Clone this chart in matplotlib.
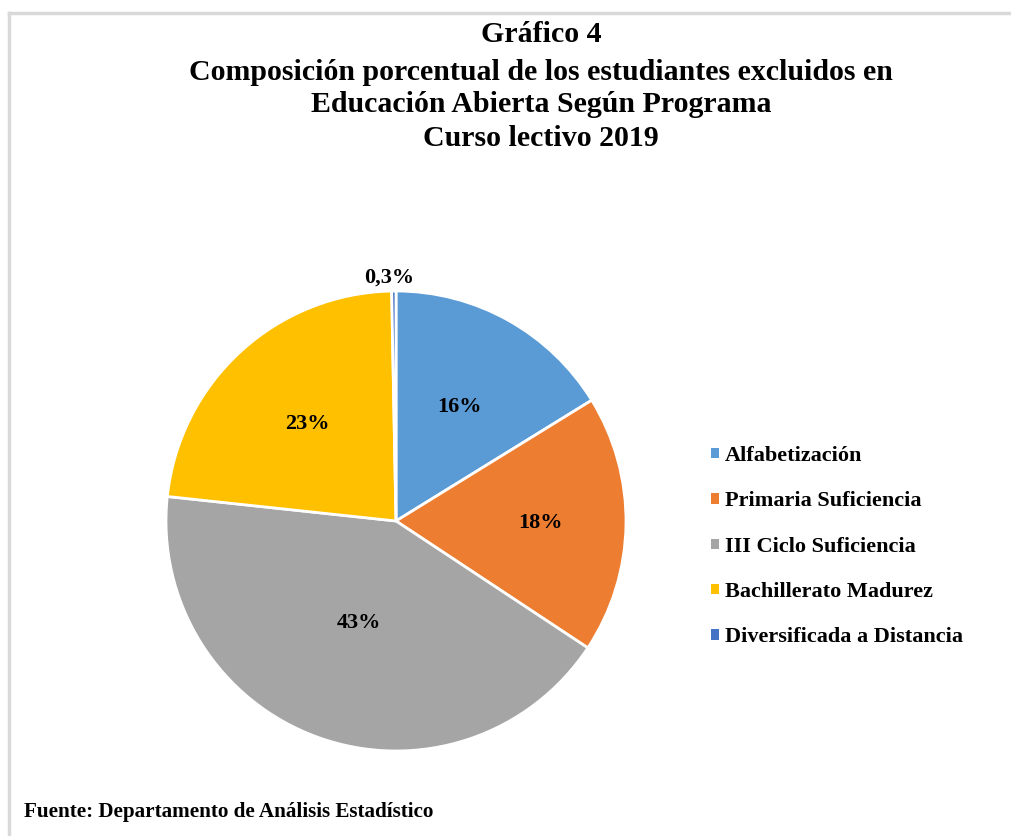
import matplotlib
matplotlib.use("Agg")
import matplotlib.pyplot as plt
from matplotlib.lines import Line2D
from matplotlib.patches import Patch
import numpy as np

categories = ["Alfabetización", "Primaria Suficiencia", "III Ciclo Suficiencia",
              "Bachillerato Madurez", "Diversificada a Distancia"]
values = [16.2, 18.1, 42.4, 23.0, 0.3]
labels = ["16%", "18%", "43%", "23%", "0,3%"]
colors = ["#5B9BD5", "#ED7D31", "#A5A5A5", "#FFC000", "#4472C4"]
title_lines = ["Gráfico 4",
               "Composición porcentual de los estudiantes excluidos en",
               "Educación Abierta Según Programa",
               "Curso lectivo 2019"]
source = "Fuente: Departamento de Análisis Estadístico"

plt.rcParams['font.family'] = ['Liberation Serif', 'DejaVu Serif']
plt.rcParams['font.weight'] = 'bold'

W, H = 1011, 836
fig = plt.figure(figsize=(W / 100, H / 100), dpi=100)

# frame lines (top and left)
fig.add_artist(Line2D([9 / W, 1.0], [1 - 13 / H, 1 - 13 / H], color="#D9D9D9", lw=2.5))
fig.add_artist(Line2D([9 / W, 9 / W], [0, 1 - 13 / H], color="#D9D9D9", lw=2.5))

cx, cy, r = 396, 521, 230
ax = fig.add_axes([(cx - r) / W, (H - cy - r) / H, 2 * r / W, 2 * r / H])
wedges, _ = ax.pie(values, colors=colors, startangle=90, counterclock=False,
                   wedgeprops=dict(edgecolor="white", linewidth=2))
ax.set_xlim(-1, 1)
ax.set_ylim(-1, 1)
ax.set_aspect("equal")
ax.axis("off")

label_r = [0.57, 0.63, 0.47, 0.57, 1.06]
for w, lab, lr in zip(wedges, labels, label_r):
    ang = np.deg2rad((w.theta1 + w.theta2) / 2)
    if lab == "0,3%":
        ang = np.deg2rad(w.theta1 + 1.5)
    ax.text(lr * np.cos(ang), lr * np.sin(ang), lab, ha="center", va="center",
            fontsize=16, fontweight="bold", color="#000000")

ys = [35, 72, 104, 138]
for t, y in zip(title_lines, ys):
    fig.text(541 / W, 1 - y / H, t, ha="center", va="center",
             fontsize=21.5, fontweight="bold")

handles = [Patch(facecolor=c, edgecolor="none") for c in colors]
leg = fig.legend(handles, categories, loc="upper left",
                 bbox_to_anchor=(711 / W, 1 - 446 / H), frameon=False,
                 borderaxespad=0, borderpad=0,
                 fontsize=16, handlelength=0.34, handleheight=0.34,
                 handletextpad=0.28, labelspacing=1.14)
for t in leg.get_texts():
    t.set_fontweight("bold")

fig.text(24 / W, 1 - 812 / H, source, ha="left", va="center",
         fontsize=15.2, fontweight="bold")

fig.savefig("out.png", dpi=100)
